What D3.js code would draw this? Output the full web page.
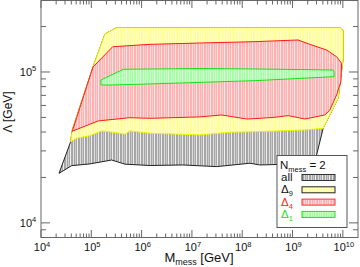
<!DOCTYPE html>
<html><head><meta charset="utf-8">
<script src="https://cdn.jsdelivr.net/npm/d3@7"></script>
<style>body{margin:0;background:#fff}svg{display:block;font-family:"Liberation Sans",Arial,sans-serif}</style>
</head><body><svg id="c" width="360" height="267"></svg>
<script>
// Data: polygons in (M_mess [GeV], Lambda [GeV])
const allRegion = [[2.28e4,2.13e4],[3.89e4,3.455e4],[4.19e4,4.13e4],[1.08e5,1.079e5],[1.87e5,1.785e5],[3.19e5,1.965e5],[9.14e9,1.965e5],[1.015e10,1.87e5],[1.015e10,1.232e5],[8.07e9,6.70e4],[4.06e9,4.24e4],[3.01e9,2.82e4],[2.5e9,2.45e4],[1.40e9,2.46e4],[2.24e8,2.42e4],[1.42e8,2.485e4],[3.10e7,2.36e4],[6.63e6,2.42e4],[1.46e6,2.40e4],[4.67e5,2.45e4],[2.54e5,2.61e4],[9.41e4,2.46e4],[4.07e4,2.395e4]];
const delta9Region = [[3.89e4,3.455e4],[4.19e4,4.13e4],[1.08e5,1.079e5],[1.87e5,1.785e5],[3.19e5,1.965e5],[9.14e9,1.965e5],[1.015e10,1.87e5],[1.015e10,1.232e5],[8.07e9,6.70e4],[4.06e9,4.24e4],[1.76e9,4.13e4],[1.79e8,4.02e4],[5.69e7,3.99e4],[1.44e7,3.83e4],[1.46e6,3.93e4],[5.87e5,4.07e4],[4.67e5,3.87e4],[2.70e5,3.99e4],[1.607e5,4.07e4],[9.41e4,3.79e4],[5.12e4,3.64e4]];
const delta4Region = [[4.19e4,4.05e4],[1.08e5,1.079e5],[2.66e5,1.47e5],[1.46e6,1.525e5],[1.44e7,1.556e5],[1.79e8,1.588e5],[1.29e9,1.63e5],[2.21e9,1.525e5],[4.75e9,1.399e5],[7.50e9,1.263e5],[9.44e9,1.142e5],[9.14e9,8.63e4],[7.50e9,7.04e4],[5.52e9,5.60e4],[4.39e9,5.19e4],[1.76e9,4.88e4],[8.20e8,5.14e4],[4.46e8,5.01e4],[2.24e8,4.93e4],[1.22e8,4.88e4],[3.89e7,5.19e4],[1.44e7,5.04e4],[1.46e6,4.93e4],[5.87e5,4.98e4],[1.375e5,4.74e4]];
const delta1Region = [[1.556e5,8.85e4],[4.32e5,1.042e5],[1.44e7,1.055e5],[1.79e8,1.047e5],[6.42e9,1.031e5],[6.72e9,1.0e5],[6.72e9,9.31e4],[1.79e8,8.76e4],[1.46e6,8.33e4],[2.54e5,8.20e4],[1.556e5,8.20e4]];
const xTickExps = [4,5,6,7,8,9,10];
const yTickExps = [4,5];
const legendTitle = "N";
const legendLabels = ["all","Δ","Δ","Δ"];
const legendSubs = ["","9","4","1"];

const svg = d3.select("#c");
const x = d3.scaleLog().domain([1e4,2e10]).range([41,358]);
const y = d3.scaleLog().domain([8e3,3e5]).range([237.5,0]);

const styles = [
  {id:"pAll", base:"#a6a6a6", stripe:"#eeeeee", stroke:"#222"},
  {id:"p9", base:"#ffff96", stripe:"#ffffe0", stroke:"#f2f200"},
  {id:"p4", base:"#ffb0b0", stripe:"#ffe8e8", stroke:"#ff1a1a"},
  {id:"p1", base:"#a4ffa4", stripe:"#e4ffe4", stroke:"#1adf1a"}
];
const defs = svg.append("defs");
styles.forEach(s=>{
  const p = defs.append("pattern").attr("id",s.id).attr("patternUnits","userSpaceOnUse").attr("width",7).attr("height",10);
  p.append("rect").attr("width",7).attr("height",10).attr("fill",s.base);
  p.append("rect").attr("x",0).attr("width",1).attr("height",10).attr("fill",s.stripe);
  p.append("rect").attr("x",3).attr("width",1).attr("height",10).attr("fill",s.stripe).attr("opacity",0.75);
  p.append("rect").attr("x",5).attr("width",1).attr("height",10).attr("fill",s.stripe).attr("opacity",0.5);
});
const line = d3.line().x(d=>x(d[0])).y(d=>y(d[1])).curve(d3.curveLinearClosed);
[allRegion,delta9Region,delta4Region,delta1Region].forEach((r,i)=>{
  svg.append("path").attr("d",line(r)).attr("fill",`url(#${styles[i].id})`)
    .attr("stroke",styles[i].stroke).attr("stroke-width",1).attr("stroke-linejoin","round");
});

// frame and ticks
const axCol = "#666";
const g = svg.append("g");
g.append("rect").attr("x",41).attr("y",0.5).attr("width",317).attr("height",237).attr("fill","none").attr("stroke",axCol);
const xMinor=[], yMinor=[];
for(let e=4;e<=10;e++) for(let k=2;k<=9;k++){const v=k*Math.pow(10,e); if(v<2e10) xMinor.push(v);}
for(let e=3;e<=5;e++) for(let k=2;k<=9;k++){const v=k*Math.pow(10,e); if(v>8e3&&v<3e5) yMinor.push(v);}
xTickExps.forEach(e=>{const xv=x(Math.pow(10,e));
  g.append("line").attr("x1",xv).attr("x2",xv).attr("y1",237.5).attr("y2",230).attr("stroke",axCol);
  g.append("line").attr("x1",xv).attr("x2",xv).attr("y1",0.5).attr("y2",8).attr("stroke",axCol);
  const t=g.append("text").attr("x",xv+1).attr("y",251).attr("text-anchor","middle").attr("font-size",11).attr("fill","#111");
  t.append("tspan").text("10"); t.append("tspan").attr("dy",-4.5).attr("font-size",7.5).text(e);
});
xMinor.forEach(v=>{const xv=x(v);
  g.append("line").attr("x1",xv).attr("x2",xv).attr("y1",237.5).attr("y2",233.5).attr("stroke",axCol);
  g.append("line").attr("x1",xv).attr("x2",xv).attr("y1",0.5).attr("y2",4.5).attr("stroke",axCol);
});
yTickExps.forEach(e=>{const yv=y(Math.pow(10,e));
  g.append("line").attr("x1",41).attr("x2",50).attr("y1",yv).attr("y2",yv).attr("stroke",axCol);
  g.append("line").attr("x1",358).attr("x2",349).attr("y1",yv).attr("y2",yv).attr("stroke",axCol);
  const t=g.append("text").attr("x",28).attr("y",yv+4).attr("text-anchor","middle").attr("font-size",11).attr("fill","#111");
  t.append("tspan").text("10"); t.append("tspan").attr("dy",-4.5).attr("font-size",7.5).text(e);
});
yMinor.forEach(v=>{const yv=y(v);
  g.append("line").attr("x1",41).attr("x2",46).attr("y1",yv).attr("y2",yv).attr("stroke",axCol);
  g.append("line").attr("x1",358).attr("x2",353).attr("y1",yv).attr("y2",yv).attr("stroke",axCol);
});

// axis titles
const xt = svg.append("text").attr("x",199).attr("y",262).attr("text-anchor","middle").attr("font-size",13).attr("fill","#111");
xt.append("tspan").text("M"); xt.append("tspan").attr("dy",3).attr("font-size",9).text("mess");
xt.append("tspan").attr("dy",-3).text(" [GeV]");
svg.append("text").attr("transform","translate(12,112) rotate(-90)").attr("text-anchor","middle")
  .attr("font-size",12).attr("fill","#111").text("Λ [GeV]");

// legend
const lg = svg.append("g");
lg.append("rect").attr("x",277).attr("y",155.5).attr("width",70).attr("height",72).attr("fill","#fff").attr("stroke","#555");
const lt = lg.append("text").attr("x",280).attr("y",169).attr("font-size",11.5).attr("fill","#111");
lt.append("tspan").text(legendTitle); lt.append("tspan").attr("dy",3).attr("font-size",7.5).text("mess");
lt.append("tspan").attr("dy",-3).text(" = 2");
const labCols = ["#111","#111","#ff2020","#20e020"];
const swStroke = ["#333","#222","#ff3030","#20dd20"];
legendLabels.forEach((l,i)=>{
  const yy = 174.5 + i*12.3;
  const t = lg.append("text").attr("x",281).attr("y",yy+6.5).attr("font-size",11.5).attr("fill",labCols[i]);
  t.append("tspan").text(l);
  if(legendSubs[i]) t.append("tspan").attr("dy",3).attr("font-size",7.5).text(legendSubs[i]);
  lg.append("rect").attr("x",302).attr("y",yy).attr("width",33).attr("height",6).attr("fill",`url(#${styles[i].id})`).attr("stroke",swStroke[i]);
});
</script></body></html>
